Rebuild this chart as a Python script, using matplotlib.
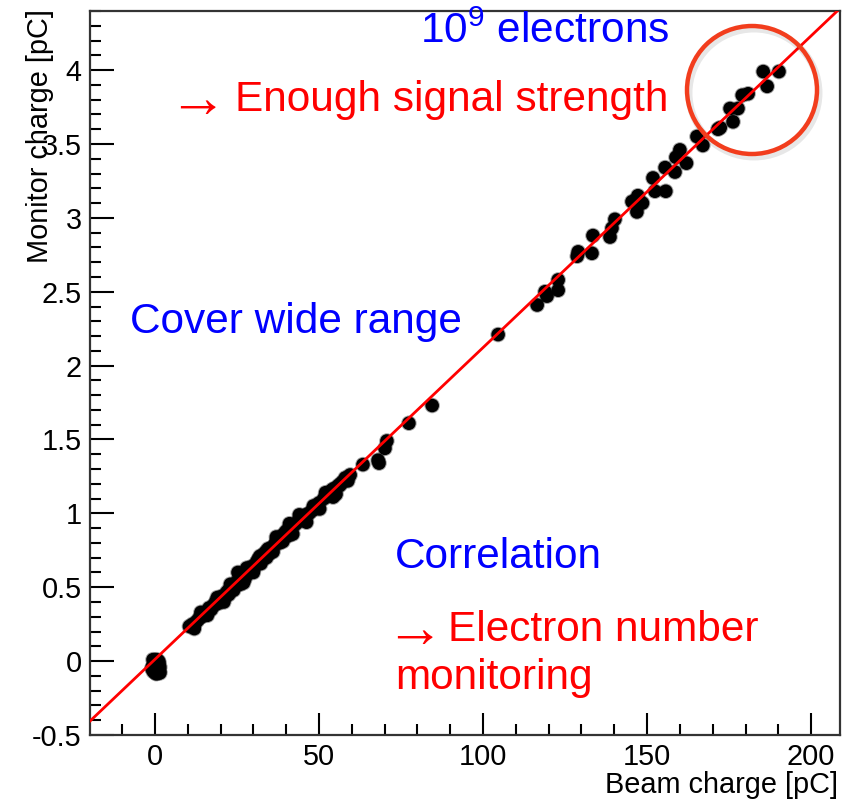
import matplotlib
matplotlib.use("Agg")
import matplotlib.pyplot as plt
from matplotlib.patches import Ellipse
from matplotlib.ticker import MultipleLocator
import numpy as np

plt.rcParams['font.family'] = ['Liberation Sans', 'DejaVu Sans']
plt.rcParams['mathtext.default'] = 'regular'

# ---- data ----
beam_zero = [0.0, 0.6, -0.8, 1.0, 1.4, 0.2, 1.5, -0.6, 0.8, 0.1, -0.3, 1.2, 0.5, -0.9, 1.5, 0.4, -0.5, 1.1]
monitor_zero = [0.00, -0.02, -0.04, -0.06, -0.07, -0.08, -0.04, 0.01, -0.08, -0.06, -0.02, -0.01,
                0.01, -0.05, -0.08, -0.085, -0.07, 0.0]

beam_dense = [10.5, 11.5, 12.0, 12.8, 13.5, 14.0, 14.2, 15.0, 15.8, 16.0, 16.5, 17.2, 18.0, 18.5,
              19.0, 19.2, 20.0, 20.5, 21.0, 21.2, 22.0, 22.5, 23.0, 23.3, 24.0, 24.8, 25.3, 25.5,
              26.0, 26.8, 27.0, 27.5, 28.0, 28.2, 29.0, 29.5, 30.0, 30.2, 31.0, 31.5, 32.0, 32.3,
              33.0, 33.8, 34.0, 34.5, 35.0, 35.8, 36.0, 36.5, 37.0, 37.2, 38.0, 38.5, 39.0, 39.3,
              40.0, 40.8, 41.0, 41.5, 42.0, 42.2, 43.0, 43.8, 44.0, 44.5, 45.2, 46.0, 46.2, 47.0,
              48.0, 48.3, 49.0, 50.0, 50.2, 51.5, 52.0, 53.0, 54.0, 54.3, 54.8, 55.2, 56.0, 56.4,
              57.0, 58.0, 58.8, 59.5]
monitor_dense = [0.235, 0.25, 0.22, 0.27, 0.29, 0.33, 0.30, 0.32, 0.33, 0.31, 0.36, 0.35, 0.38, 0.40,
                 0.43, 0.39, 0.42, 0.44, 0.40, 0.43, 0.47, 0.45, 0.52, 0.50, 0.48, 0.53, 0.60, 0.55,
                 0.52, 0.58, 0.53, 0.56, 0.63, 0.60, 0.62, 0.64, 0.60, 0.63, 0.67, 0.69, 0.71, 0.66,
                 0.72, 0.74, 0.70, 0.76, 0.73, 0.77, 0.74, 0.79, 0.84, 0.82, 0.80, 0.84, 0.81, 0.86,
                 0.88, 0.85, 0.93, 0.90, 0.86, 0.92, 0.93, 0.95, 0.99, 0.97, 0.96, 0.99, 0.94, 1.00,
                 1.02, 1.05, 1.04, 1.07, 1.03, 1.10, 1.14, 1.13, 1.16, 1.11, 1.17, 1.13, 1.19, 1.19,
                 1.21, 1.24, 1.22, 1.26]

beam_sparse = [63.4, 68.0, 68.3, 70.1, 70.7, 77.4, 84.5, 104.6, 116.5, 118.9, 119.5, 122.9, 122.9,
               128.7, 129.0, 133.2, 133.5, 138.7, 139.3, 140.2, 145.4, 146.9, 147.2, 148.6, 151.8,
               152.4, 155.5, 155.7, 158.5, 158.8, 160.0, 162.0, 165.2, 167.0, 171.6, 172.3, 175.3,
               176.2, 177.7, 179.0, 180.8, 185.4, 186.6, 190.2]
monitor_sparse = [1.33, 1.36, 1.34, 1.44, 1.49, 1.61, 1.73, 2.21, 2.41, 2.50, 2.47, 2.58, 2.51,
                  2.74, 2.77, 2.76, 2.88, 2.87, 2.93, 2.99, 3.11, 3.04, 3.15, 3.10, 3.27,
                  3.18, 3.34, 3.18, 3.31, 3.41, 3.46, 3.37, 3.55, 3.49, 3.60, 3.61, 3.74,
                  3.65, 3.74, 3.83, 3.84, 3.99, 3.89, 3.99]

fit_slope = 0.0211
fit_intercept = 0.012

xlim = (-19.8, 208.8)
ylim = (-0.5, 4.4)

# ---- figure ----
W, H = 850, 802
fig = plt.figure(figsize=(W / 100, H / 100), dpi=100)
ax = fig.add_axes([90 / W, 1 - 735 / H, 750 / W, 724 / H])

bx = beam_zero + beam_dense + beam_sparse
my = monitor_zero + monitor_dense + monitor_sparse
# soft halo + core to mimic the slightly blurred ROOT markers
ax.scatter(bx, my, s=125, color='black', alpha=0.35, edgecolors='none', zorder=2)
ax.scatter(bx, my, s=95, color='black', edgecolors='none', zorder=2)

xs = np.array(xlim)
ax.plot(xs, fit_slope * xs + fit_intercept, color='#ff0000', lw=2.0, zorder=3)

ax.set_xlim(*xlim)
ax.set_ylim(*ylim)

ax.xaxis.set_major_locator(MultipleLocator(50))
ax.xaxis.set_minor_locator(MultipleLocator(10))
ax.yaxis.set_major_locator(MultipleLocator(0.5))
ax.yaxis.set_minor_locator(MultipleLocator(0.1))

ax.tick_params(which='both', direction='in', top=False, right=False,
               labelsize=20.8, colors='black', width=1.5)
ax.tick_params(axis='x', which='major', length=16, pad=6)
ax.tick_params(axis='x', which='minor', length=8)
ax.tick_params(axis='y', which='major', length=17, pad=6)
ax.tick_params(axis='y', which='minor', length=8)

ax.set_xticks([0, 50, 100, 150, 200])
ax.set_xticklabels(['0', '50', '100', '150', '200'])
ax.set_yticks([-0.5, 0, 0.5, 1, 1.5, 2, 2.5, 3, 3.5, 4])
ax.set_yticklabels(['-0.5', '0', '0.5', '1', '1.5', '2', '2.5', '3', '3.5', '4'])

for sp in ax.spines.values():
    sp.set_linewidth(1.6)
    sp.set_color('#333333')

# axis titles (ROOT style)
fig.text(838 / W, 1 - 785 / H, 'Beam charge [pC]', ha='right', va='center', fontsize=20.8)
fig.text(40 / W, 1 - 9 / H, 'Monitor charge [pC]', ha='center', va='top', rotation=90, fontsize=20.8)

# annotations
fs = 30.5
afs = 42
fig.text(420 / W, 1 - 32 / H, '10$^{9}$ electrons', color='#0000ff', fontsize=fs, ha='left', va='center')
fig.text(168 / W, 1 - 102 / H, '\u2192', color='#ff0000', fontsize=afs, ha='left', va='center')
fig.text(235 / W, 1 - 100 / H, 'Enough signal strength', color='#ff0000', fontsize=fs, ha='left', va='center')
fig.text(130 / W, 1 - 322 / H, 'Cover wide range', color='#0000ff', fontsize=fs, ha='left', va='center')
fig.text(395 / W, 1 - 557 / H, 'Correlation', color='#0000ff', fontsize=fs, ha='left', va='center')
fig.text(385 / W, 1 - 632 / H, '\u2192', color='#ff0000', fontsize=afs, ha='left', va='center')
fig.text(448 / W, 1 - 630 / H, 'Electron number', color='#ff0000', fontsize=fs, ha='left', va='center')
fig.text(395 / W, 1 - 678 / H, 'monitoring', color='#ff0000', fontsize=fs, ha='left', va='center')

# highlight circle
shadow = Ellipse((754 / W, 1 - 93 / H), 130 / W, 128 / H, transform=fig.transFigure,
                 fill=False, edgecolor='#00000018', lw=5, zorder=9)
fig.add_artist(shadow)
circ = Ellipse((752 / W, 1 - 90 / H), 130 / W, 128 / H, transform=fig.transFigure,
               fill=False, edgecolor='#f23d1d', lw=3.2, zorder=10)
fig.add_artist(circ)

fig.savefig('out.png', dpi=100)
